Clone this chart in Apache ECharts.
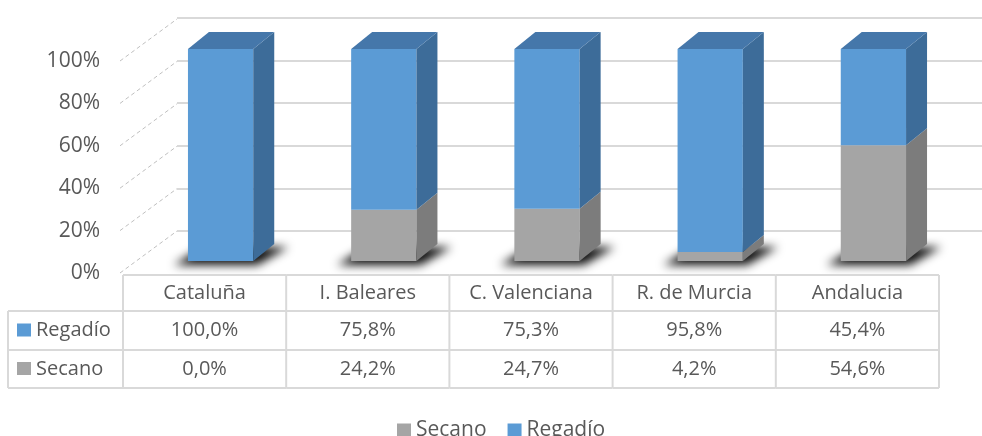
<!DOCTYPE html>
<html>
<head>
<meta charset="utf-8">
<script src="https://cdn.jsdelivr.net/npm/echarts@6/dist/echarts.min.js"></script>
<style>
  html, body { margin: 0; padding: 0; background: #fff; }
  #chart { width: 982px; height: 436px; }
</style>
</head>
<body>
<div id="chart"></div>
<script>
// datos
const categories = ['Cataluña', 'I. Baleares', 'C. Valenciana', 'R. de Murcia', 'Andalucia']
const regadio = [100.0, 75.8, 75.3, 95.8, 45.4]
const secano = [0.0, 24.2, 24.7, 4.2, 54.6]
const yTicks = [0, 20, 40, 60, 80, 100]

// colores tipo Excel
const colors = {
  Secano: { front: '#A5A5A5', side: '#7C7C7C', top: '#8E8E8E' },
  'Regadío': { front: '#5B9BD5', side: '#3D6C99', top: '#4577AA' }
}
const textColor = '#595959'
const lineColor = '#D9D9D9'
const font = '"Open Sans", "Noto Sans", sans-serif'

// perspectiva de las barras 3D
const DX = 21
const DY = -17
const LIFT = 12
const OFF = 3000 // para dibujar solo la sombra difusa

const fmt = (v) => v.toFixed(1).replace('.', ',') + '%'

const chart = echarts.init(document.getElementById('chart'))

// una barra (segmento apilado) en 3D
const renderBar = (name, isTop) => (params, api) => {
  const i = api.value(0)
  const base = api.value(1)
  const top = api.value(2)
  if (top - base <= 0 && !isTop) return
  const band = api.size([1, 0])[0]
  const c = api.coord([i, 0])
  const cx = c[0] + 16
  const w = band * 0.4
  const x0 = cx - w / 2
  const x1 = cx + w / 2
  const yb = api.coord([i, base])[1] - LIFT
  const yt = api.coord([i, top])[1] - LIFT
  const col = colors[name]
  const children = [
    { type: 'rect', shape: { x: x0, y: yt, width: w, height: yb - yt }, style: { fill: col.front } },
    {
      type: 'polygon',
      shape: { points: [[x1, yt], [x1 + DX, yt + DY], [x1 + DX, yb + DY], [x1, yb]] },
      style: { fill: col.side }
    }
  ]
  if (isTop) {
    children.push({
      type: 'polygon',
      shape: { points: [[x0, yt], [x0 + DX, yt + DY], [x1 + DX, yt + DY], [x1, yt]] },
      style: { fill: col.top }
    })
  }
  return { type: 'group', children }
}

// sombra difusa bajo cada barra
const renderShadow = (params, api) => {
  const i = api.value(0)
  const band = api.size([1, 0])[0]
  const c = api.coord([i, 0])
  const cx = c[0] + 16
  const w = band * 0.4
  const x0 = cx - w / 2 - OFF
  const x1 = cx + w / 2 - OFF
  const yb = c[1] - LIFT
  return {
    type: 'polygon',
    shape: { points: [[x0 - 14, yb + 4], [x1 + 4, yb + 4], [x1 + DX + 14, yb + DY + 3], [x0 + DX - 6, yb + DY + 3]] },
    style: { fill: '#000', shadowBlur: 10, shadowColor: 'rgba(0,0,0,0.95)', shadowOffsetX: OFF }
  }
}

// diagonales punteadas de la pared izquierda
const renderWall = (params, api) => {
  const v = api.value(1)
  const p = api.coord([0, v])
  const x = params.coordSys.x
  return {
    type: 'line',
    shape: { x1: x - 3, y1: p[1], x2: x + 54, y2: p[1] - 42 },
    style: { stroke: '#BFBFBF', lineWidth: 1, lineDash: [4, 3] }
  }
}

// tabla de datos bajo el eje
const renderTable = (params, api) => {
  const i = api.value(0)
  const band = api.size([1, 0])[0]
  const c = api.coord([i, 0])
  const xl = c[0] - band / 2
  const xr = c[0] + band / 2
  const y0 = c[1] + 2
  const rows = [y0, y0 + 36, y0 + 75, y0 + 113]
  const stroke = { stroke: lineColor, lineWidth: 2 }
  const txt = (text, x, y, align) => ({
    type: 'text',
    style: { text, x, y, align: align || 'center', verticalAlign: 'middle', fill: textColor, font: '20px ' + font }
  })
  const children = [
    { type: 'line', shape: { x1: xr, y1: rows[0], x2: xr, y2: rows[3] }, style: stroke },
    txt(categories[i], c[0], (rows[0] + rows[1]) / 2),
    txt(fmt(regadio[i]), c[0], (rows[1] + rows[2]) / 2),
    txt(fmt(secano[i]), c[0], (rows[2] + rows[3]) / 2)
  ]
  rows.forEach((y) => {
    children.push({ type: 'line', shape: { x1: xl, y1: y, x2: xr, y2: y }, style: stroke })
  })
  if (i === 0) {
    const lx = 8
    children.push(
      { type: 'line', shape: { x1: xl, y1: rows[0], x2: xl, y2: rows[3] }, style: stroke },
      { type: 'line', shape: { x1: lx, y1: rows[1], x2: lx, y2: rows[3] }, style: stroke },
      { type: 'line', shape: { x1: lx, y1: rows[1], x2: xl, y2: rows[1] }, style: stroke },
      { type: 'line', shape: { x1: lx, y1: rows[2], x2: xl, y2: rows[2] }, style: stroke },
      { type: 'line', shape: { x1: lx, y1: rows[3], x2: xl, y2: rows[3] }, style: stroke },
      { type: 'rect', shape: { x: 17, y: (rows[1] + rows[2]) / 2 - 7, width: 14, height: 13 }, style: { fill: colors['Regadío'].front } },
      { type: 'rect', shape: { x: 17, y: (rows[2] + rows[3]) / 2 - 7, width: 14, height: 13 }, style: { fill: colors.Secano.front } },
      txt('Regadío', 36, (rows[1] + rows[2]) / 2, 'left'),
      txt('Secano', 36, (rows[2] + rows[3]) / 2, 'left')
    )
  }
  return { type: 'group', children }
}

const option = {
  animation: false,
  color: [colors.Secano.front, colors['Regadío'].front],
  textStyle: { fontFamily: font },
  legend: {
    data: ['Secano', 'Regadío'],
    bottom: -10,
    left: 392,
    itemWidth: 14,
    itemHeight: 14,
    itemGap: 21,
    icon: 'rect',
    textStyle: { fontSize: 21, color: textColor, fontFamily: font }
  },
  grid: [
    { left: 123, right: 43, top: 61, bottom: 163 },
    { left: 177, right: 0, top: 18, bottom: 205 }
  ],
  xAxis: [
    {
      type: 'category',
      data: categories,
      gridIndex: 0,
      axisLine: { show: false },
      axisTick: { show: false },
      axisLabel: { show: false }
    },
    { type: 'value', gridIndex: 1, show: false, min: 0, max: 1 }
  ],
  yAxis: [
    {
      type: 'value',
      gridIndex: 0,
      min: 0,
      max: 100,
      interval: 20,
      axisLine: { show: false },
      axisTick: { show: false },
      splitLine: { show: false },
      axisLabel: { formatter: '{value}%', fontSize: 21, color: textColor, margin: 23, fontFamily: font }
    },
    {
      type: 'value',
      gridIndex: 1,
      min: 0,
      max: 100,
      interval: 20,
      axisLine: { show: false },
      axisTick: { show: false },
      axisLabel: { show: false },
      splitLine: { lineStyle: { color: lineColor, width: 2 } }
    }
  ],
  series: [
    {
      type: 'custom',
      silent: true,
      z: 1,
      renderItem: renderWall,
      data: yTicks.map((v) => [0, v])
    },
    {
      type: 'custom',
      silent: true,
      z: 2,
      renderItem: renderShadow,
      data: categories.map((c, i) => [i])
    },
    {
      name: 'Secano',
      type: 'custom',
      z: 3,
      renderItem: renderBar('Secano', false),
      data: categories.map((c, i) => [i, 0, secano[i]])
    },
    {
      name: 'Regadío',
      type: 'custom',
      z: 3,
      renderItem: renderBar('Regadío', true),
      data: categories.map((c, i) => [i, secano[i], secano[i] + regadio[i]])
    },
    {
      type: 'custom',
      silent: true,
      z: 4,
      renderItem: renderTable,
      data: categories.map((c, i) => [i])
    }
  ]
}

chart.setOption(option)
</script>
</body>
</html>
